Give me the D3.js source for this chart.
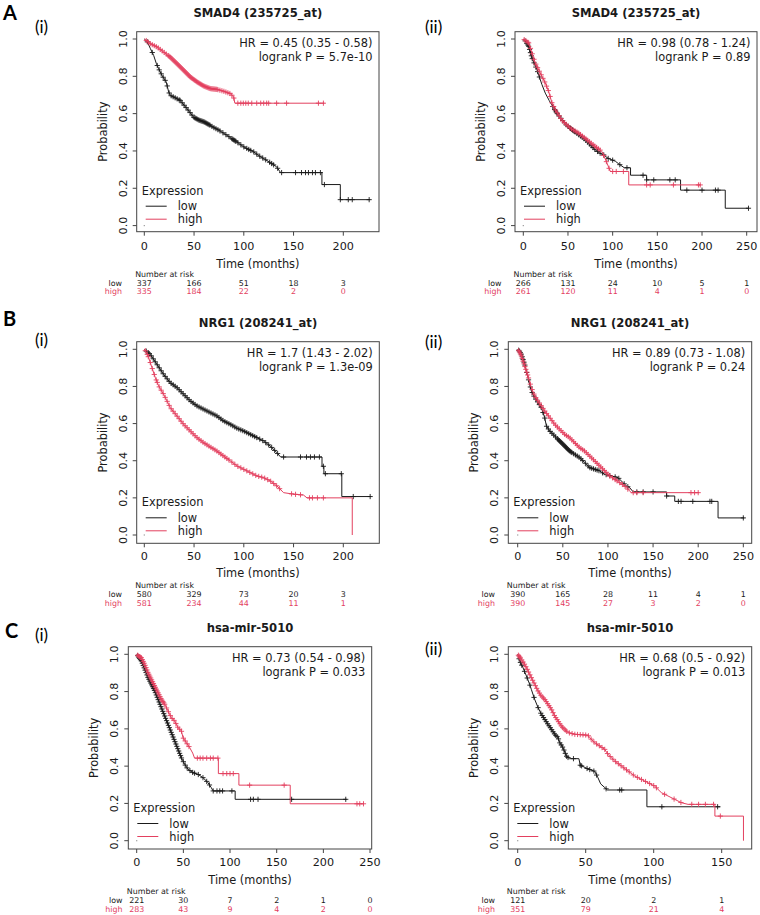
<!DOCTYPE html>
<html>
<head>
<meta charset="utf-8">
<script src="https://cdn.jsdelivr.net/npm/d3@7"></script>
<style>
  body { margin: 0; background: #fff; }
  svg text { font-family: "DejaVu Sans", sans-serif; fill: #1a1a1a; }
</style>
</head>
<body>
<div id="figure"></div>
<script>

// ---- panel A(i): SMAD4, curves as [months, survival]
const a1Low = [[0,1],[3,0.985],[6,0.95],[9.4,0.912],[12,0.87],[14.4,0.841],[17.8,0.805],[22,0.77],[24.5,0.716],[26.2,0.698],[31,0.685],[36,0.671],[43,0.626],[49.6,0.581],[55,0.565],[60,0.556],[66,0.538],[70,0.525],[75,0.511],[83,0.484],[88,0.466],[93,0.448],[100,0.422],[105,0.408],[110,0.395],[115,0.375],[120,0.359],[127,0.336],[133,0.315],[137,0.284],[178.5,0.284],[178.5,0.22],[197,0.22],[197,0.139],[227,0.139]];
const a1High = [[0,1],[6,0.975],[12.8,0.957],[19.5,0.93],[26,0.903],[33,0.867],[39.6,0.832],[46.3,0.796],[53,0.77],[59.7,0.748],[66.4,0.734],[73,0.73],[79.8,0.72],[86.5,0.707],[89.8,0.689],[91,0.656],[181,0.656]];
const a1LowCens = [3,8,13,15,17,19,21,23,25,27,29,31,33,35,36,38,40,42,44,46,48,50,51,52,53,54,55,56,57,58,59,60,61,62,63,64,65,66,68,70,72,74,76,79,82,85,88,89,90,91,92,94,97,100,103,105,107,110,113,116,119,122,126,128,130,134,138,152,158,162,165,169,172,177,181,197,205,209,226];
const a1HighCens = [2,4,6,8,10,12,14,16,18,20,22,24,25,26,27,28,29,30,31,32,33,34,35,36,37,38,39,40,41,42,43,44,45,46,47,48,49,50,51,52,53,54,55,56,57,58,59,60,61,62,63,64,65,66,67,68,69,70,71,72,73,74,76,78,80,82,84,86,88,90,94,97,99.5,102,104.5,108,113,117,120,123,125,133,143,175,180];
const a1RiskLow = [337,166,51,18,3];
const a1RiskHigh = [335,184,22,2,0];

// ---- panel A(ii)
const a2Low = [[0,1],[2,0.99],[6,0.961],[9.7,0.898],[15.3,0.835],[20.9,0.755],[24.6,0.71],[29,0.67],[34,0.63],[38,0.6],[43.3,0.567],[48,0.54],[52.6,0.522],[57,0.505],[62,0.487],[67,0.47],[71.3,0.451],[76,0.428],[80.6,0.406],[85,0.39],[90,0.379],[95,0.36],[103,0.345],[107,0.33],[113,0.31],[120,0.31],[120,0.27],[138,0.27],[138,0.245],[176,0.245],[176,0.19],[226,0.19],[226,0.093],[252,0.093]];
const a2High = [[0,1],[3,0.99],[6,0.979],[9.7,0.925],[13.4,0.871],[19,0.818],[24.6,0.764],[28.4,0.719],[32.1,0.657],[35.8,0.621],[43.3,0.564],[52.6,0.522],[61.9,0.496],[71.3,0.46],[80.6,0.424],[88.1,0.397],[93.7,0.335],[97.4,0.29],[118,0.29],[118,0.218],[198,0.218]];
const a2LowCens = [2,4,5,6,7,8,9,10,12,14,16,18,33,35,36,37,38,40,42,44,46,48,50,52,53,54,55,56,57,58,60,62,64,66,68,70,72,74,76,78,80,83,86,90,95,100,108,116,134,138,146,164,170,183,200,215,218,252];
const a2HighCens = [1,3,5,6,8,10,12,14,16,18,20,22,24,26,28,30,32,34,36,38,40,42,44,46,48,50,52,54,56,58,60,62,64,66,68,70,72,74,76,78,80,82,84,86,90,93,96,100,104,112,138,142,168,196,198];
const a2RiskLow = [266,131,24,10,5,1];
const a2RiskHigh = [261,120,11,4,1,0];

// ---- panel B(i): NRG1
const b1Low = [[0,1],[3,0.985],[6,0.973],[12.7,0.919],[19.4,0.865],[26.1,0.82],[32.8,0.794],[39.5,0.758],[46.2,0.722],[53,0.695],[59.6,0.677],[66.3,0.659],[73,0.641],[79.7,0.614],[86.4,0.596],[93.1,0.575],[99.8,0.56],[106.5,0.542],[113.2,0.524],[119.9,0.506],[126.6,0.479],[133.3,0.443],[137,0.42],[178.6,0.42],[178.6,0.37],[180.5,0.37],[180.5,0.33],[198.5,0.33],[198.5,0.207],[228,0.207]];
const b1High = [[0,1],[2,0.985],[4.4,0.955],[7.7,0.901],[11.1,0.847],[14.4,0.803],[19.4,0.758],[22.8,0.722],[26.1,0.686],[32.8,0.641],[39.5,0.596],[46.2,0.56],[53,0.524],[59.6,0.497],[66.3,0.474],[73,0.452],[79.7,0.425],[86.4,0.399],[93.1,0.372],[99.8,0.354],[106.5,0.336],[113.2,0.318],[119.9,0.309],[126.6,0.291],[133.3,0.264],[140,0.228],[150,0.22],[160,0.215],[163.5,0.2],[209,0.2],[209,0]];
const b1LowCens = [2,4,5,7,9,11,13,15,17,19,21,23,25,27,29,31,33,35,37,39,41,43,45,47,49,51,53,55,57,59,61,63,65,67,69,71,73,75,77,79,81,83,85,87,89,91,93,95,97,99,101,103,105,107,109,111,113,116,119,122,125,128,131,134,140,157,163,167,171,176,180,182,198,210,227];
const b1HighCens = [1,3,4,6,8,10,12,13,15,17,19,21,23,25,27,29,31,33,35,37,39,41,43,45,47,49,51,53,55,57,59,61,63,65,67,69,71,73,75,77,79,81,83,85,88,91,94,97,100,103,106,109,112,115,118,121,124,127,130,133,136,148,152,157,166,169,174,180];
const b1RiskLow = [580,329,73,20,3];
const b1RiskHigh = [581,234,44,11,1];

// ---- panel B(ii)
const b2Low = [[0,1],[2,0.99],[4.1,0.973],[7.8,0.919],[11.4,0.847],[15.1,0.776],[18.8,0.74],[22.5,0.713],[26.2,0.686],[29.9,0.632],[31.8,0.587],[35.5,0.56],[41,0.533],[46.5,0.506],[52.1,0.479],[57.6,0.452],[63.1,0.434],[68.7,0.417],[74.2,0.39],[79.8,0.363],[85.3,0.354],[90.8,0.345],[96.4,0.327],[103.8,0.318],[111.2,0.309],[116.7,0.282],[120.4,0.264],[124.1,0.255],[128,0.232],[165,0.232],[165,0.21],[174,0.21],[174,0.181],[222,0.181],[222,0.092],[251,0.092]];
const b2High = [[0,1],[2,0.985],[4.1,0.964],[7.8,0.91],[11.4,0.856],[15.1,0.794],[18.8,0.749],[22.5,0.722],[26.2,0.695],[29.9,0.668],[35.5,0.632],[41,0.596],[46.5,0.569],[52.1,0.542],[57.6,0.524],[63.1,0.497],[68.7,0.47],[74.2,0.452],[79.8,0.425],[85.3,0.399],[90.8,0.372],[96.4,0.345],[101.9,0.318],[107.5,0.3],[113,0.282],[118.5,0.264],[122.2,0.246],[126,0.228],[201,0.228]];
const b2LowCens = [1,2,3,4,5,6,7,8,10,12,14,16,18,20,22,24,26,28,30,32,34,36,38,40,42,44,45,46,47,48,49,50,51,52,53,54,55,56,57,58,59,60,62,64,66,68,70,72,75,78,80,82,84,86,88,90,94,98,102,108,112,118,122,132,139,150,165,178,181,194,213,215,250];
const b2HighCens = [1,2,3,4,5,6,7,8,9,10,11,12,14,16,18,20,22,24,26,28,30,32,34,36,38,40,42,44,46,48,50,52,54,56,58,60,62,64,66,68,70,72,74,76,78,80,82,84,86,88,90,92,94,96,98,100,102,105,108,110,113,116,119,122,128,132,139,192,196,200];
const b2RiskLow = [390,165,28,11,4,1];
const b2RiskHigh = [390,145,27,3,2,0];

// ---- panel C(i): hsa-mir-5010
const c1Low = [[0,1],[2,0.985],[5,0.964],[8.6,0.92],[12.1,0.875],[15.7,0.839],[19.3,0.803],[22.9,0.758],[26.4,0.714],[30,0.669],[33.6,0.624],[37.1,0.58],[40.7,0.535],[44.3,0.49],[47.9,0.445],[51.4,0.41],[55,0.383],[60.4,0.365],[65.7,0.356],[71.1,0.338],[76.4,0.311],[80,0.284],[81.8,0.267],[105.5,0.267],[105.5,0.222],[225,0.222]];
const c1High = [[0,1],[2,0.99],[5,0.982],[8.6,0.946],[12.1,0.902],[15.7,0.866],[19.3,0.83],[22.9,0.794],[26.4,0.759],[30,0.732],[33.6,0.696],[37.1,0.66],[40.7,0.642],[44.3,0.606],[47.9,0.589],[49.6,0.553],[53.2,0.526],[56.8,0.499],[60,0.47],[62,0.443],[87.5,0.443],[87.5,0.36],[109.5,0.36],[109.5,0.298],[164.5,0.298],[164.5,0.198],[243,0.198]];
const c1LowCens = [1,2,3,4,5,6,7,8,9,10,11,12,13,14,15,16,17,18,19,20,21,22,23,24,25,26,27,28,29,30,31,32,33,34,35,36,37,38,39,40,41,42,43,44,45,46,47,48,50,52,54,57,60,62,66,71,75,78,82,86,89,92,102,122,125,130,166,224];
const c1HighCens = [1,2,3,4,5,6,7,8,9,10,11,12,13,14,15,16,17,18,19,20,21,22,23,24,25,26,27,28,29,30,32,34,36,38,40,42,44,46,48,50,52,54,56,65,68,71,75,79,82,87,92.5,96.5,100,103.5,121,158,236,239,243];
const c1RiskLow = [221,30,7,2,1,0];
const c1RiskHigh = [283,43,9,4,2,0];

// ---- panel C(ii)
const c2Low = [[0,1],[1.5,0.964],[3.9,0.928],[6.4,0.884],[8.8,0.839],[10,0.812],[12.5,0.758],[15,0.714],[17.4,0.678],[19.9,0.651],[22.3,0.624],[24.8,0.598],[27.2,0.571],[29.7,0.553],[30.9,0.526],[33.3,0.499],[35.8,0.454],[38,0.44],[45,0.44],[46,0.405],[51.7,0.385],[56.6,0.372],[59,0.338],[61,0.305],[64,0.285],[66,0.272],[95,0.272],[95,0.182],[149,0.182]];
const c2High = [[0,1],[2.7,0.973],[5.1,0.946],[7.6,0.911],[10,0.875],[12.5,0.839],[15,0.803],[17.4,0.776],[19.9,0.758],[22.3,0.732],[24.8,0.705],[27.2,0.669],[29.7,0.642],[32.1,0.615],[34.5,0.597],[37,0.58],[41.9,0.571],[51.7,0.566],[52.9,0.553],[56.6,0.526],[60.3,0.508],[64,0.49],[66.4,0.463],[71.3,0.428],[76.2,0.401],[81.1,0.374],[86,0.347],[90.9,0.329],[95.8,0.311],[100.7,0.293],[105.6,0.258],[110.5,0.24],[115.4,0.222],[120.3,0.204],[125.2,0.195],[145,0.195],[145,0.132],[166,0.132],[166,0]];
const c2LowCens = [1,2,3,5,7,9,12,15,17,18,19,20,21,22,23,24,25,26,27,28,29,30,31,32,33,34,35,36,37,41,46,47,51,53,56,58,65,75,76.5,106,147];
const c2HighCens = [0.5,1,1.5,2,3,4,5,6,7,8,9,10,11,12,13,14,15,16,17,18,19,20,21,22,23,24,25,26,27,28,29,30,31,32,33,34,35,36,38,40,42,44,46,48,50,52,54,56,58,60,62,64,66,68,70,72,74,76,78,80,82,85,88,91,94,97,100,102,108,115,120,128,133,138,144,149];
const c2RiskLow = [121,20,2,1];
const c2RiskHigh = [351,79,21,4];

const titles = ["SMAD4 (235725_at)", "SMAD4 (235725_at)", "NRG1 (208241_at)", "NRG1 (208241_at)", "hsa-mir-5010", "hsa-mir-5010"];
const hrLabels = ["HR = 0.45 (0.35 - 0.58)", "HR = 0.98 (0.78 - 1.24)", "HR = 1.7 (1.43 - 2.02)", "HR = 0.89 (0.73 - 1.08)", "HR = 0.73 (0.54 - 0.98)", "HR = 0.68 (0.5 - 0.92)"];
const pLabels = ["logrank P = 5.7e-10", "logrank P = 0.89", "logrank P = 1.3e-09", "logrank P = 0.24", "logrank P = 0.033", "logrank P = 0.013"];
const xTicks200 = [0, 50, 100, 150, 200];
const xTicks250 = [0, 50, 100, 150, 200, 250];
const xTicks150 = [0, 50, 100, 150];
const yTicks = [0, 0.2, 0.4, 0.6, 0.8, 1.0];
const groups = ["low", "high"];

const red = "#e3405f";
const dark = "#1a1a1a";

// layout: rows hold the vertical geometry, panels the horizontal one
const rows = {
  A: { top: 31.7, bottom: 231.7, y1: 39, y0: 225.6, tickDy: 15, labDy: 32.6 },
  B: { top: 341.7, bottom: 543.3, y1: 349.3, y0: 535, tickDy: 13, labDy: 30 },
  C: { top: 646.7, bottom: 849, y1: 654.3, y0: 840.7, tickDy: 13, labDy: 31 }
};

const panels = [
  { row: "A", left: 136.7, right: 379, x0: 144.3, ppm: 0.995, riskX: 122, ticks: xTicks200,
    low: a1Low, high: a1High, lowC: a1LowCens, highC: a1HighCens, rLow: a1RiskLow, rHigh: a1RiskHigh },
  { row: "A", left: 515, right: 757, x0: 523.3, ppm: 0.8936, riskX: 501.5, ticks: xTicks250,
    low: a2Low, high: a2High, lowC: a2LowCens, highC: a2HighCens, rLow: a2RiskLow, rHigh: a2RiskHigh },
  { row: "B", left: 136.7, right: 379.3, x0: 144.3, ppm: 0.995, riskX: 122, ticks: xTicks200,
    low: b1Low, high: b1High, lowC: b1LowCens, highC: b1HighCens, rLow: b1RiskLow, rHigh: b1RiskHigh },
  { row: "B", left: 508.3, right: 751.7, x0: 517.7, ppm: 0.9025, riskX: 495, ticks: xTicks250,
    low: b2Low, high: b2High, lowC: b2LowCens, highC: b2HighCens, rLow: b2RiskLow, rHigh: b2RiskHigh },
  { row: "C", left: 128.3, right: 371.7, x0: 136.7, ppm: 0.9333, riskX: 122.5, ticks: xTicks250,
    low: c1Low, high: c1High, lowC: c1LowCens, highC: c1HighCens, rLow: c1RiskLow, rHigh: c1RiskHigh },
  { row: "C", left: 508.3, right: 751.7, x0: 517.7, ppm: 1.36, riskX: 495, ticks: xTicks150,
    low: c2Low, high: c2High, lowC: c2LowCens, highC: c2HighCens, rLow: c2RiskLow, rHigh: c2RiskHigh }
];

const svg = d3.select("div#figure")
  .append("svg")
  .attr("width", 760)
  .attr("height", 915);

svg.append("rect").attr("width", 760).attr("height", 915).attr("fill", "#fff");

// position of a censor mark on the drawn curve
function survAt(c, t) {
  for (let i = c.length - 1; i >= 0; i--) {
    if (c[i][0] <= t) {
      const n = c[i + 1];
      if (!n || n[0] === c[i][0]) return c[i][1];
      return c[i][1] + (n[1] - c[i][1]) * (t - c[i][0]) / (n[0] - c[i][0]);
    }
  }
  return 1;
}

function drawPanel(p, k) {
  const r = rows[p.row];
  const last = p.ticks[p.ticks.length - 1];
  const x = d3.scaleLinear().domain([0, last]).range([p.x0, p.x0 + p.ppm * last]);
  const y = d3.scaleLinear().domain([0, 1]).range([r.y0, r.y1]);
  const g = svg.append("g");

  g.append("rect")
    .attr("x", p.left).attr("y", r.top)
    .attr("width", p.right - p.left).attr("height", r.bottom - r.top)
    .attr("fill", "none").attr("stroke", "#444").attr("stroke-width", 1);

  // x axis
  const xa = g.append("g").attr("transform", `translate(0,${r.bottom})`);
  xa.selectAll("line").data(p.ticks).join("line")
    .attr("x1", d => x(d)).attr("x2", d => x(d))
    .attr("y1", 0).attr("y2", 4).attr("stroke", "#444");
  xa.selectAll("text").data(p.ticks).join("text")
    .attr("x", d => x(d)).attr("y", r.tickDy)
    .attr("text-anchor", "middle").attr("dominant-baseline", "central")
    .style("font-size", "11.2px")
    .text(d => d);
  g.append("text")
    .attr("x", (p.left + p.right) / 2).attr("y", r.bottom + r.labDy)
    .attr("text-anchor", "middle").attr("dominant-baseline", "central")
    .style("font-size", "11.4px")
    .text("Time (months)");

  // y axis
  const ya = g.append("g");
  ya.selectAll("line").data(yTicks).join("line")
    .attr("x1", p.left - 4).attr("x2", p.left)
    .attr("y1", d => y(d)).attr("y2", d => y(d)).attr("stroke", "#444");
  ya.selectAll("text").data(yTicks).join("text")
    .attr("transform", d => `translate(${p.left - 13.4},${y(d)}) rotate(-90)`)
    .attr("text-anchor", "middle").attr("dominant-baseline", "central")
    .style("font-size", "11.2px")
    .text(d => d3.format(".1f")(d));
  g.append("text")
    .attr("transform", `translate(${p.left - 34},${(r.top + r.bottom) / 2}) rotate(-90)`)
    .attr("text-anchor", "middle").attr("dominant-baseline", "central")
    .style("font-size", "11.4px")
    .text("Probability");

  g.append("text")
    .attr("x", (p.left + p.right) / 2).attr("y", r.top - 18.4)
    .attr("text-anchor", "middle").attr("dominant-baseline", "central")
    .style("font-size", "11.6px").style("font-weight", "bold")
    .text(titles[k]);

  g.selectAll("text.hr").data([hrLabels[k], pLabels[k]]).join("text")
    .attr("class", "hr")
    .attr("x", p.right - 6.5).attr("y", (d, i) => r.top + 11.3 + i * 13.6)
    .attr("text-anchor", "end").attr("dominant-baseline", "central")
    .style("font-size", "11.4px")
    .text(d => d);

  // curves
  const line = d3.line().x(d => x(d[0])).y(d => y(d[1]));
  const sets = [
    { curve: p.low, cens: p.lowC, color: dark },
    { curve: p.high, cens: p.highC, color: red }
  ];
  sets.forEach(s => {
    g.append("path").datum(s.curve)
      .attr("d", line)
      .attr("fill", "none").attr("stroke", s.color).attr("stroke-width", 1);
    g.append("g").selectAll("path").data(s.cens).join("path")
      .attr("transform", d => `translate(${x(d)},${y(survAt(s.curve, d))})`)
      .attr("d", "M-2.6,0H2.6M0,-2.6V2.6")
      .attr("stroke", s.color).attr("stroke-width", 0.9);
  });

  g.append("rect")
    .attr("x", x(0) - 0.6).attr("y", y(0) - 0.6).attr("width", 1.2).attr("height", 1.2)
    .attr("fill", "#999");

  // legend
  g.append("text")
    .attr("x", p.left + 5).attr("y", r.bottom - 41)
    .attr("dominant-baseline", "central")
    .style("font-size", "11.4px")
    .text("Expression");
  groups.forEach((grp, i) => {
    const ly = r.bottom - 25.5 + i * 13;
    g.append("line")
      .attr("x1", p.left + 9).attr("x2", p.left + 30)
      .attr("y1", ly).attr("y2", ly)
      .attr("stroke", i ? red : dark).attr("stroke-width", 1);
    g.append("text")
      .attr("x", p.left + 41).attr("y", ly)
      .attr("dominant-baseline", "central")
      .style("font-size", "11.4px")
      .text(grp);
  });

  // number at risk
  g.append("text")
    .attr("x", p.left - 1.5).attr("y", r.bottom + 42.5)
    .attr("dominant-baseline", "central")
    .style("font-size", "7.9px")
    .text("Number at risk");
  [p.rLow, p.rHigh].forEach((vals, i) => {
    const ry = r.bottom + 51.3 + i * 8.8;
    const col = i ? red : dark;
    g.append("text")
      .attr("x", p.riskX).attr("y", ry)
      .attr("text-anchor", "end").attr("dominant-baseline", "central")
      .style("font-size", "7.9px").style("fill", col)
      .text(groups[i]);
    g.append("g").selectAll("text").data(vals).join("text")
      .attr("x", (d, j) => x(p.ticks[j])).attr("y", ry)
      .attr("text-anchor", "middle").attr("dominant-baseline", "central")
      .style("font-size", "7.9px").style("fill", col)
      .text(d => d);
  });
}

panels.forEach(drawPanel);

// panel letters
const letters = [
  { t: "A", x: 3, y: 12 }, { t: "B", x: 3, y: 318 }, { t: "C", x: 5, y: 630 }
];
const romans = [
  { t: "(i)", x: 35, y: 26 }, { t: "(ii)", x: 425, y: 26 },
  { t: "(i)", x: 35, y: 339.5 }, { t: "(ii)", x: 425, y: 341.5 },
  { t: "(i)", x: 35, y: 634 }, { t: "(ii)", x: 425, y: 648.5 }
];
svg.append("g").selectAll("text").data(letters).join("text")
  .attr("x", d => d.x).attr("y", d => d.y)
  .attr("dominant-baseline", "central")
  .style("font-family", "Lato, 'Open Sans', sans-serif")
  .style("font-weight", "bold").style("font-size", "20px").style("fill", "#000")
  .text(d => d.t);
svg.append("g").selectAll("text").data(romans).join("text")
  .attr("x", d => d.x).attr("y", d => d.y)
  .attr("dominant-baseline", "central")
  .style("font-family", "Lato, 'Open Sans', sans-serif")
  .style("font-size", "17px").style("fill", "#000")
  .text(d => d.t);

</script>
</body>
</html>
